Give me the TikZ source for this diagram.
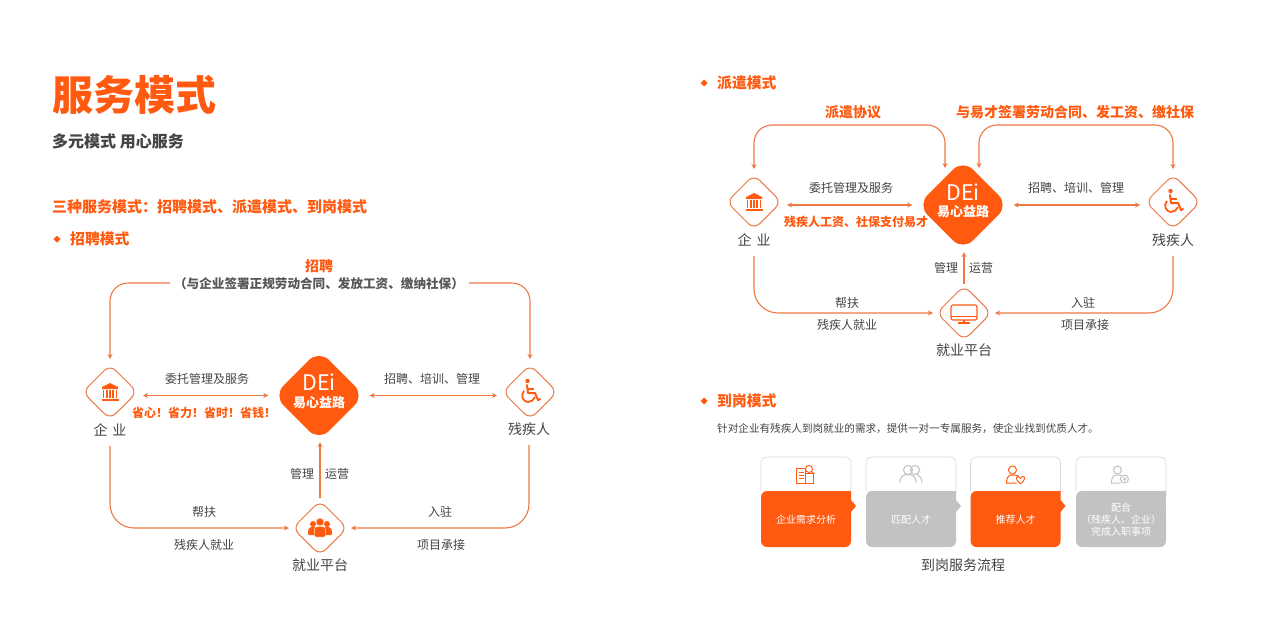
\documentclass[tikz,border=0pt]{standalone}
\usepackage{fontspec}
\setmainfont{Noto Sans CJK SC}
\usetikzlibrary{arrows.meta,shapes.geometric}
\definecolor{brand}{HTML}{FF5A10}
\definecolor{flowline}{HTML}{EC7A45}
\definecolor{txt}{HTML}{444444}
\definecolor{cardgrey}{HTML}{C2C2C2}
\newcommand{\cardDtext}{配合\\（残疾人、企业）\\完成入职事项}
\tikzset{
	lbl/.style={inner sep=0,text=txt,font=\fontsize{12}{14}\selectfont},
	lblbig/.style={inner sep=0,text=txt,font=\fontsize{14}{16}\selectfont},
	lblorg/.style={inner sep=0,text=brand,font=\bfseries\fontsize{12}{14}\selectfont},
	lblhead/.style={inner sep=0,text=brand,font=\bfseries\fontsize{14}{16}\selectfont},
	head/.style={inner sep=0,anchor=west,text=brand,font=\bfseries\fontsize{14.8}{16}\selectfont},
	smalld/.style={shape=diamond,draw=flowline,line width=1pt,aspect=1,inner sep=0,minimum size=55pt,rounded corners=8pt},
	logod/.style={shape=diamond,fill=brand,aspect=1,inner sep=0,minimum size=91pt,rounded corners=14pt},
	flow/.style={draw=flowline,line width=1.1pt,-{Stealth[length=5pt,width=5pt]},shorten >=5pt,shorten <=5pt},
	flowb/.style={flow,{Stealth[length=5pt,width=5pt]}-{Stealth[length=5pt,width=5pt]}},
	bank/.pic={
		\fill[brand] (-8,-5) -- (0,-9) -- (8,-5) -- (8,-3) -- (-8,-3) -- cycle;
		\foreach \cx in {-6.5,-3,0,3,6.5} {\fill[brand] (\cx-0.8,-2) rectangle (\cx+0.8,6);}
		\fill[brand] (-8.5,7) rectangle (8.5,9);
	},
	chair/.pic={
		\fill[brand] (-2.5,-11) circle (2.2);
		\draw[brand,line width=2pt,line cap=round,line join=round] (-3,-7) -- (-2,1) -- (5,1) -- (8,8) -- (10,7);
		\draw[brand,line width=1.6pt] (-2,-3) -- (4,-3);
		\draw[brand,line width=1.8pt] (-6,-1) .. controls (-10,3) and (-7,10) .. (-2,10) .. controls (1,10) and (4,8) .. (5,5);
	},
	crowd/.pic={
		\foreach \cx in {-7,7} {
			\fill[brand] (\cx,-4) circle (3);
			\fill[brand,rounded corners=2pt] (\cx-5.5,7) -- (\cx-4,-1) -- (\cx+4,-1) -- (\cx+5.5,7) -- cycle;
		}
		\fill[brand,draw=white] (0,-6) circle (4);
		\fill[brand,draw=white,rounded corners=2pt] (-6,9) -- (-5,-1.5) -- (5,-1.5) -- (6,9) -- cycle;
	},
	screen/.pic={
		\draw[brand,line width=1.1pt,rounded corners=2pt] (-13,-8) rectangle (13,7);
		\draw[brand,line width=1.1pt] (-13,3.5) -- (13,3.5) (0,7) -- (0,10) (-6,10) -- (6,10);
	},
	bookd/.pic={
		\draw[brand,line width=0.9pt] (-9,-7) rectangle (0,8) (0,-2) -- (8,-2) -- (8,8) -- (0,8);
		\draw[brand,line width=0.9pt] (-7,-3) -- (-2,-3) (-7,0) -- (-2,0) (-7,3) -- (-2,3);
		\draw[brand,line width=0.9pt] (3.5,-6) circle (3.5) (6,-3.5) -- (9,-1);
	},
	twomen/.pic={
		\draw[cardgrey,line width=1pt] (-3,-5) circle (4.5) (4,-5) circle (4.5);
		\draw[cardgrey,line width=1pt] (-11,8) .. controls (-11,0) and (-6,-1) .. (-3,0) .. controls (0,-1) and (5,0) .. (5,8);
		\draw[cardgrey,line width=1pt] (6,-0.5) .. controls (9,1) and (11,3) .. (11,8);
	},
	onemanheart/.pic={
		\draw[brand,line width=1pt] (-3,-5) circle (4);
		\draw[brand,line width=1pt] (1,8) -- (-9,8) .. controls (-9,1) and (-6,0) .. (-3,0) .. controls (-1,0) and (1,0) .. (3,1);
		\draw[brand,line width=1pt] (5,9) .. controls (0,5) and (0,1) .. (3,1.5) .. controls (4.5,2) .. (5,3.5) .. controls (5.5,2) .. (7,1.5) .. controls (10,1) and (10,5) .. (5,9);
	},
	onemanplus/.pic={
		\draw[cardgrey,line width=1pt] (-3,-5) circle (4);
		\draw[cardgrey,line width=1pt] (0,8) -- (-9,8) .. controls (-9,1) and (-6,0) .. (-3,0) .. controls (-1,0) and (0,0) .. (1,1);
		\draw[cardgrey,line width=1pt] (4,4) circle (4) (2,4) -- (6,4) (4,2) -- (4,6);
	}
}
\begin{document}
\begin{tikzpicture}[x=1pt,y=-1pt]
\useasboundingbox[fill=white] (0,0) rectangle (1280,640);

%Titel links
\node[inner sep=0,anchor=west,text=brand,font=\bfseries\fontsize{41}{44}\selectfont] (title) at (52,95) {服务模式};
\node[inner sep=0,anchor=west,text=txt,font=\bfseries\fontsize{16}{18}\selectfont] (subtitle) at (52,141) {多元模式 用心服务};
\node[head,font=\bfseries\fontsize{15}{16}\selectfont] (threemodes) at (52,207) {三种服务模式：招聘模式、派遣模式、到岗模式};

%Abschnitte
\foreach \name/\x/\y/\t in
{
hz/70/239/招聘模式,
hp/717/83/派遣模式,
hd/717/401/到岗模式
}
{
	\fill[brand] (\x-13,\y-3.5) -- (\x-9.5,\y) -- (\x-13,\y+3.5) -- (\x-16.5,\y) -- cycle;
	\node[head] (\name) at (\x,\y) {\t};
}

%Rauten
\foreach \name/\x/\y in
{
qiyeA/110/392,
canA/530/392,
pingA/320/528,
qiyeB/754/202,
canB/1173/202,
pingB/964/313
}
{
	\node[smalld] (\name) at (\x,\y) {};
}

%Logos
\foreach \name/\x/\y in
{
logoA/319/395.5,
logoB/963/205
}
{
	\node[logod] (\name) at (\x,\y) {};
	\node[inner sep=0,text=white,font=\fontsize{21.5}{22}\selectfont] (\name t) at (\x,\y-13) {DEi};
	\node[inner sep=0,text=white,font=\bfseries\fontsize{13}{14}\selectfont] (\name s) at (\x,\y+7) {易心益路};
}

%Icons
\pic at (qiyeA) {bank};
\pic at (qiyeB) {bank};
\pic at (canA) {chair};
\pic at (canB) {chair};
\pic at (pingA) {crowd};
\pic at (pingB) {screen};

%Knotentexte
\foreach \name/\x/\y/\t in
{
qiyeAl/110/430/企\hspace{5pt}业,
canAl/529/429/残疾人,
pingAl/320/565/就业平台,
qiyeBl/754/240/企\hspace{5pt}业,
canBl/1173/240/残疾人,
pingBl/964/350/就业平台
}
{
	\node[lblbig] (\name) at (\x,\y) {\t};
}

%Beschriftungen
\foreach \name/\x/\y/\t in
{
a1/207/379/委托管理及服务,
a2/432/379/招聘、培训、管理,
a3/302/474/管理,
a4/337/474/运营,
a5/204/512/帮扶,
a6/204/545/残疾人就业,
a7/440/512/入驻,
a8/441/545/项目承接,
b1/851/188/委托管理及服务,
b2/1076/188/招聘、培训、管理,
b3/946/268/管理,
b4/981/268/运营,
b5/847/303/帮扶,
b6/847/325/残疾人就业,
b7/1083/303/入驻,
b8/1085/325/项目承接
}
{
	\node[lbl] (\name) at (\x,\y) {\t};
}
\foreach \name/\x/\y/\t in
{
saveall/204/413/省心！省力！省时！省钱！,
wage/856/222/残疾人工资、社保支付易才
}
{
	\node[lblorg] (\name) at (\x,\y) {\t};
}
\foreach \name/\x/\y/\t in
{
zp/319/266/招聘,
paiq/853/112/派遣协议,
qian/1075/112/与易才签署劳动合同、发工资、缴社保
}
{
	\node[lblhead] (\name) at (\x,\y) {\t};
}
\node[lbl,font=\bfseries\fontsize{12.6}{14}\selectfont,text=txt!90] (zpnote) at (319,284) {（与企业签署正规劳动合同、发放工资、缴纳社保）};
\node[lbl,font=\fontsize{10.6}{12}\selectfont,anchor=west] (desc) at (717,429) {针对企业有残疾人到岗就业的需求，提供一对一专属服务，使企业找到优质人才。};

%Verbindungen links
\coordinate (zpL) at (170,283);
\coordinate (zpR) at (469,283);
\draw[flow,rounded corners=18pt,shorten <=0pt] (zpL) -| (qiyeA.north);
\draw[flow,rounded corners=18pt,shorten <=0pt] (zpR) -| (canA.north);
\draw[flowb] (qiyeA.east |- logoA.west) -- (logoA.west);
\draw[flowb] (canA.west |- logoA.east) -- (logoA.east);
\draw[flow,shorten <=2pt,shorten >=1pt] (pingA.north) -- (pingA.north |- logoA.south);
\draw[flow,rounded corners=24pt,shorten <=9.5pt,shorten >=3pt] (qiyeAl.south) |- (pingA.west);
\draw[flow,rounded corners=24pt,shorten <=9.5pt,shorten >=3pt] (canAl.south) |- (pingA.east);

%Verbindungen rechts
\coordinate (topl) at (945,125);
\coordinate (topr) at (979,125);
\coordinate (logoBl) at (945,173);
\coordinate (logoBr) at (979,173);
\draw[flowb,rounded corners=18pt] (qiyeB.north) |- (topl) -- (logoBl);
\draw[flowb,rounded corners=18pt] (logoBr) -- (topr) -| (canB.north);
\draw[flowb] (qiyeB.east |- logoB.west) -- (logoB.west);
\draw[flowb] (canB.west |- logoB.east) -- (logoB.east);
\draw[flow,shorten <=1pt,shorten >=1.5pt] (pingB.north) -- (pingB.north |- logoB.south);
\draw[flow,rounded corners=24pt,shorten <=9.5pt,shorten >=3pt] (qiyeBl.south) |- (pingB.west);
\draw[flow,rounded corners=24pt,shorten <=9.5pt,shorten >=3pt] (canBl.south) |- (pingB.east);

%Karten
\foreach \name/\x/\col/\txtc in
{
cardA/761/brand/企业需求分析,
cardB/866/cardgrey/匹配人才,
cardC/970.5/brand/推荐人才,
cardD/1076/cardgrey/\cardDtext
}
{
	\draw[black!15,line width=0.6pt,rounded corners=6pt] (\x,491) -- (\x,457) -- (\x+90,457) -- (\x+90,491);
	\fill[fill=\col,rounded corners=6pt] (\x,491) [sharp corners] -- (\x+90,491) -- (\x+90,500) -- (\x+95,506) -- (\x+90,512) [rounded corners=6pt] -- (\x+90,547) -- (\x,547) -- cycle;
	\node[inner sep=0,text=white,align=center,font=\fontsize{10}{12}\selectfont] (\name) at (\x+45,520) {\txtc};
}
\fill[white] (1166.3,498) rectangle (1172,514);
\pic at (805.5,475) {bookd};
\pic at (911,475) {twomen};
\pic at (1015.5,475) {onemanheart};
\pic at (1120.5,475) {onemanplus};
\node[lblbig,font=\fontsize{14}{15}\selectfont] (flowcap) at (963,565) {到岗服务流程};

\end{tikzpicture}
\end{document}
